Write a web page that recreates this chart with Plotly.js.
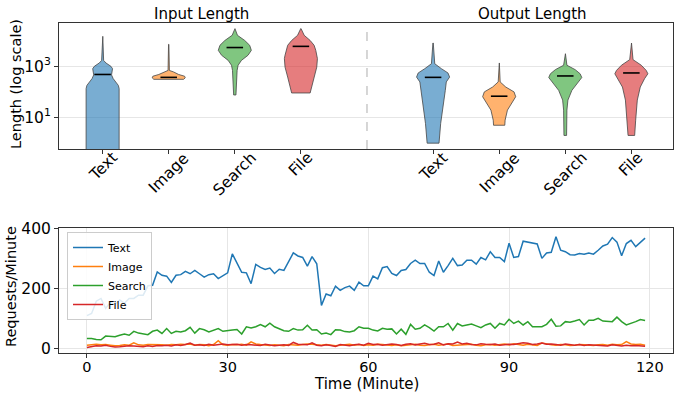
<!DOCTYPE html>
<html><head><meta charset="utf-8">
<script src="https://cdn.plot.ly/plotly-3.0.1.min.js"></script>
<style>html,body{margin:0;padding:0;background:#fff}</style>
</head><body><div id="chart" style="width:678px;height:395px"></div>
<script>
// ---------- data ----------
const categories = ['Text', 'Image', 'Search', 'File'];
const groupTitles = ['Input Length', 'Output Length'];

// violin profiles: length levels (tokens) and relative density (max = 1)
const inputTextLevels   = [14800, 1700, 1350, 1000, 810, 600, 460, 330, 245, 180, 135, 0.25];
const inputTextDensity  = [0.01, 0.06, 0.2, 0.5, 0.6, 0.55, 0.54, 0.64, 0.8, 0.95, 1.0, 1.0];
const inputImageLevels  = [7200, 690, 600, 480, 410, 355, 310];
const inputImageDensity = [0.01, 0.04, 0.3, 0.6, 0.96, 1.0, 0.9];
const inputSearchLevels = [29500, 16200, 10200, 6600, 4200, 2700, 1700, 1100, 690, 250, 76];
const inputSearchDensity= [0.01, 0.16, 0.6, 0.9, 1.0, 0.8, 0.4, 0.2, 0.14, 0.1, 0.07];
const inputFileLevels   = [29500, 16200, 10200, 6600, 4200, 2700, 2000, 930, 380, 180, 91];
const inputFileDensity  = [0.01, 0.2, 0.56, 0.8, 0.9, 0.96, 1.0, 0.96, 0.8, 0.66, 0.56];

const outputTextLevels   = [8100, 1260, 810, 550, 380, 245, 115, 26, 5.9, 1.0];
const outputTextDensity  = [0.01, 0.1, 0.5, 0.9, 1.0, 0.8, 0.74, 0.6, 0.46, 0.36];
const outputImageLevels  = [1350, 245, 155, 100, 65, 41, 19.5, 7.9, 5.0];
const outputImageDensity = [0.01, 0.06, 0.4, 0.9, 1.0, 0.8, 0.5, 0.36, 0.34];
const outputSearchLevels = [3100, 1100, 740, 510, 365, 210, 115, 48, 19.5, 2.0];
const outputSearchDensity= [0.01, 0.1, 0.6, 0.9, 1.0, 0.7, 0.4, 0.16, 0.1, 0.08];
const outputFileLevels   = [8100, 1820, 1100, 690, 510, 330, 155, 48, 7.9, 2.0];
const outputFileDensity  = [0.01, 0.1, 0.6, 0.9, 1.0, 0.8, 0.54, 0.36, 0.26, 0.2];

const inputMedians  = [480, 370, 5400, 6000];
const outputMedians = [370, 68, 420, 550];

// requests per minute
const minutes = [0,1,2,3,4,5,6,7,8,9,10,11,12,13,14,15,16,17,18,19,20,21,22,23,24,25,26,27,28,29,
30,31,32,33,34,35,36,37,38,39,40,41,42,43,44,45,46,47,48,49,50,51,52,53,54,55,56,57,58,59,
60,61,62,63,64,65,66,67,68,69,70,71,72,73,74,75,76,77,78,79,80,81,82,83,84,85,86,87,88,89,
90,91,92,93,94,95,96,97,98,99,100,101,102,103,104,105,106,107,108,109,110,111,112,113,114,115,116,117,118,119];
const textRequests = [110,117,158,167,134,154,148,162,151,167,
167,178,178,209,211,255,244,241,220,244,
246,257,249,260,249,238,246,249,233,244,
252,315,287,254,252,216,280,270,263,268,
250,264,260,290,318,308,303,274,306,282,
144,182,176,208,194,203,208,194,221,209,
209,241,232,269,273,250,243,260,263,283,
294,283,283,254,243,291,254,276,300,276,
278,294,294,281,303,295,322,303,303,289,
350,303,306,357,354,350,348,300,318,320,
372,327,322,312,311,316,314,318,314,327,
341,347,369,354,309,349,360,339,352,367];
const imageRequests = [12,14,15,13,14,12,10,11,13,12,
20,13,12,14,14,15,13,12,14,13,
15,14,16,12,14,13,10,14,27,13,
12,14,13,15,12,23,16,14,12,11,
13,12,10,14,13,12,14,16,15,13,
12,14,11,10,12,13,15,12,14,11,
13,12,15,14,12,11,13,10,12,14,
15,12,11,13,15,12,14,16,11,12,
14,13,15,12,10,13,14,12,15,16,
13,17,14,12,15,13,11,19,15,13,
12,14,13,11,12,14,13,12,11,13,
14,12,15,13,14,24,16,14,15,12];
const searchRequests = [34,34,31,30,42,42,40,45,49,45,
58,52,49,47,58,62,51,67,51,58,
56,60,71,52,67,63,56,61,67,58,
61,62,64,49,73,69,73,80,73,85,
73,67,60,58,67,62,63,78,62,63,
49,52,47,63,62,57,56,60,73,68,
68,62,59,68,65,66,49,65,48,81,
65,68,79,70,59,73,73,84,62,84,
76,79,82,76,70,79,84,68,84,79,
98,84,92,79,90,73,73,73,81,98,
75,76,90,88,92,97,79,95,95,101,
92,90,90,105,90,79,84,90,97,94];
const fileRequests = [4,8,10,9,12,8,6,7,9,10,
9,8,7,10,8,11,10,12,9,13,
11,14,19,12,13,11,15,12,14,16,
13,14,15,12,14,13,12,11,15,12,
10,12,13,11,21,15,14,13,20,12,
10,13,11,8,14,12,10,13,15,12,
18,14,15,12,13,16,14,11,15,17,
13,16,18,14,15,20,13,17,16,22,
16,18,14,13,17,15,14,16,12,13,
15,14,17,20,18,14,16,19,15,16,
14,12,16,13,12,14,11,13,12,10,
11,9,13,10,9,12,10,11,9,8];

// ---------- styling ----------
const lineColors = ['#1f77b4', '#ff7f0e', '#2ca02c', '#d62728'];
const fillColors = ['rgba(31,119,180,0.6)', 'rgba(255,127,14,0.6)', 'rgba(44,160,44,0.6)', 'rgba(214,39,40,0.6)'];
const FONT = 'DejaVu Sans, Liberation Sans, sans-serif';
const halfWidth = 0.25;

const inputProfiles = [[inputTextLevels, inputTextDensity], [inputImageLevels, inputImageDensity],
                       [inputSearchLevels, inputSearchDensity], [inputFileLevels, inputFileDensity]];
const outputProfiles = [[outputTextLevels, outputTextDensity], [outputImageLevels, outputImageDensity],
                        [outputSearchLevels, outputSearchDensity], [outputFileLevels, outputFileDensity]];

function violin(pos, levels, dens, color) {
  const xs = [], ys = [];
  for (let i = 0; i < levels.length; i++) { xs.push(pos + dens[i] * halfWidth); ys.push(levels[i]); }
  for (let i = levels.length - 1; i >= 0; i--) { xs.push(pos - dens[i] * halfWidth); ys.push(levels[i]); }
  xs.push(xs[0]); ys.push(ys[0]);
  return {type: 'scatter', mode: 'lines', x: xs, y: ys, xaxis: 'x', yaxis: 'y',
          fill: 'toself', fillcolor: color, line: {color: 'rgba(70,70,70,0.8)', width: 1},
          showlegend: false, hoverinfo: 'skip'};
}

const traces = [];
const tickPos = [], tickText = [];
const medX = [], medY = [];
[[inputProfiles, inputMedians, 0], [outputProfiles, outputMedians, 5]].forEach(([profiles, meds, off]) => {
  profiles.forEach((p, i) => {
    const pos = off + i;
    traces.push(violin(pos, p[0], p[1], fillColors[i]));
    tickPos.push(pos); tickText.push(categories[i]);
    medX.push(pos - 0.125, pos + 0.125, null);
    medY.push(meds[i], meds[i], null);
  });
});
traces.push({type: 'scatter', mode: 'lines', x: medX, y: medY, xaxis: 'x', yaxis: 'y',
             line: {color: 'black', width: 1.6}, showlegend: false, hoverinfo: 'skip'});

const series = [textRequests, imageRequests, searchRequests, fileRequests];
series.forEach((s, i) => {
  traces.push({type: 'scatter', mode: 'lines', x: minutes, y: s, xaxis: 'x2', yaxis: 'y2',
               name: categories[i], line: {color: lineColors[i], width: 1.5}});
});

// pixel helpers for annotations (plot area: left 59, top 23, width 614, height 330)
const W = 614, H = 330, L = 59, T = 23;
const px = x => (x - L) / W;
const py = y => (T + H - y) / H;

const annotations = [];
tickPos.forEach((p, i) => {
  annotations.push({xref: 'x', yref: 'paper', x: p, y: py(146), text: tickText[i], showarrow: false,
                    textangle: -45, xanchor: 'center', yanchor: 'top', font: {family: FONT, size: 15.5, color: '#000'}});
});
annotations.push({xref: 'x', yref: 'paper', x: 1.5, y: py(14), text: groupTitles[0], showarrow: false,
                  xanchor: 'center', yanchor: 'middle', font: {family: FONT, size: 15, color: '#000'}});
annotations.push({xref: 'x', yref: 'paper', x: 6.5, y: py(14), text: groupTitles[1], showarrow: false,
                  xanchor: 'center', yanchor: 'middle', font: {family: FONT, size: 15, color: '#000'}});
annotations.push({xref: 'paper', yref: 'paper', x: px(16), y: py(84), text: 'Length (log scale)', showarrow: false,
                  textangle: -90, xanchor: 'center', yanchor: 'middle', font: {family: FONT, size: 14.5, color: '#000'}});
annotations.push({xref: 'paper', yref: 'paper', x: px(11), y: py(287), text: 'Requests/Minute', showarrow: false,
                  textangle: -90, xanchor: 'center', yanchor: 'middle', font: {family: FONT, size: 14.5, color: '#000'}});
annotations.push({xref: 'paper', yref: 'paper', x: px(366), y: py(394), yanchor: 'bottom',
                  text: 'Time (Minute)', showarrow: false, borderpad: 0,
                  xanchor: 'center', font: {family: FONT, size: 15, color: '#000'}});

const axisCommon = {showline: true, mirror: true, linecolor: '#333', linewidth: 1, ticks: 'outside',
                    ticklen: 4, tickcolor: '#333', zeroline: false, gridcolor: '#e6e6e6', gridwidth: 1,
                    tickfont: {family: FONT, size: 15.5, color: '#000'}};

const layout = {
  width: 678, height: 395,
  margin: {l: L, r: 678 - L - W, t: T, b: 395 - T - H},
  paper_bgcolor: '#fff', plot_bgcolor: '#fff',
  font: {family: FONT, color: '#000'},
  xaxis: Object.assign({}, axisCommon, {domain: [0, 1], anchor: 'y', range: [-0.66, 8.63],
          tickvals: tickPos, showticklabels: false, showgrid: false}),
  yaxis: Object.assign({}, axisCommon, {domain: [0.618, 1], anchor: 'x', type: 'log', range: [-0.23, 4.69],
          tickvals: [10, 1000], ticktext: ['10<sup>1</sup>', '10<sup>3</sup>'], showgrid: true}),
  xaxis2: Object.assign({}, axisCommon, {domain: [0, 1], anchor: 'y2', range: [-5.95, 124.95],
          tickvals: [0, 30, 60, 90, 120], showgrid: true, ticklen: 3.5, ticklabelstandoff: -3,
          tickfont: {family: FONT, size: 14.5, color: '#000'}}),
  yaxis2: Object.assign({}, axisCommon, {domain: [0, 0.379], anchor: 'x2', range: [-14, 401],
          tickvals: [0, 200, 400], showgrid: true}),
  shapes: [{type: 'line', xref: 'x', yref: 'y domain', x0: 4, x1: 4, y0: 0, y1: 1,
            line: {color: '#bbbbbb', width: 1.2, dash: 'dash'}}],
  annotations: annotations,
  showlegend: true,
  legend: {x: px(67), y: py(232), xanchor: 'left', yanchor: 'top', bgcolor: 'rgba(255,255,255,0.85)',
           bordercolor: '#cccccc', borderwidth: 1, font: {family: FONT, size: 11, color: '#000'},
           tracegroupgap: 0, itemwidth: 30}
};

Plotly.newPlot('chart', traces, layout, {staticPlot: true, displayModeBar: false});
</script>
</body></html>
